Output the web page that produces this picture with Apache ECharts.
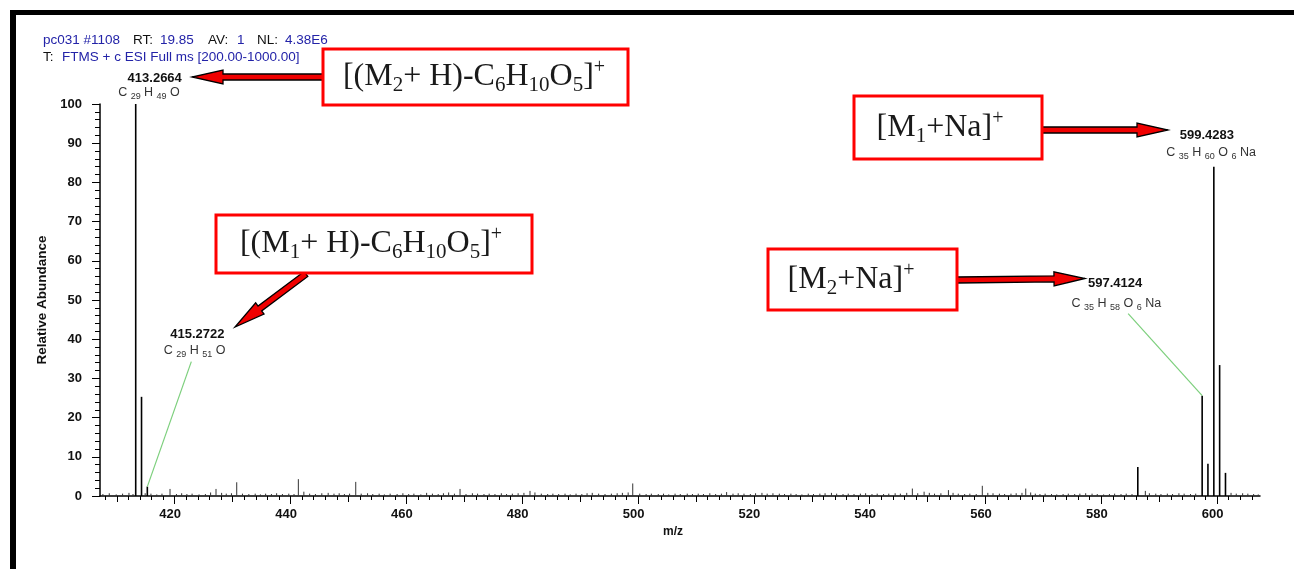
<!DOCTYPE html>
<html><head><meta charset="utf-8">
<script src="https://cdn.jsdelivr.net/npm/echarts@6/dist/echarts.min.js"></script>
<style>html,body{margin:0;padding:0;background:#fff}#c{width:1294px;height:569px}</style>
</head><body><div id="c"></div>
<script>
// ---------------- DATA ----------------
const peakMz  = [413.2664, 414.27, 415.2722, 586.30, 597.4124, 598.41, 599.4283, 600.43, 601.44];
const peakInt = [100, 25.3, 2.4, 7.4, 25.6, 8.2, 84.0, 33.4, 5.9];

const noiseMz = [407.6,408.7,409.9,411.0,412.1,412.8,414.9,415.9,416.9,417.8,419.19,420.3,421.2,422.1,423.0,424.2,425.3,426.2,427.13,428.1,428.9,429.8,430.71,431.7,432.8,433.9,434.8,435.7,436.7,437.6,438.6,439.7,440.6,441.35,442.3,443.3,444.3,445.4,446.5,447.5,448.4,449.3,450.2,451.26,452.2,453.3,454.2,455.3,456.2,457.2,458.4,459.4,460.4,461.3,462.5,463.5,464.5,465.5,466.4,467.3,468.3,469.27,470.3,471.4,472.3,473.4,474.3,475.3,476.4,477.3,478.3,479.3,480.3,481.35,482.2,483.3,484.4,485.3,486.3,487.4,488.3,489.3,490.3,491.2,492.1,493.2,494.3,495.4,496.4,497.3,498.3,499.09,500.3,501.4,502.3,503.5,504.4,505.3,506.4,507.3,508.5,509.4,510.4,511.3,512.4,513.4,514.4,515.3,516.4,517.3,518.3,519.4,520.3,521.4,522.3,523.3,524.4,525.3,526.4,527.3,528.3,529.4,530.3,531.4,532.3,533.4,534.3,535.4,536.3,537.3,538.4,539.3,540.4,541.3,542.4,543.3,544.4,545.3,546.4,547.37,548.3,549.4,550.3,551.2,552.3,553.6,554.4,555.3,556.4,557.3,558.4,559.45,560.4,561.3,562.4,563.3,564.4,565.3,566.3,566.95,567.8,568.6,569.4,570.3,571.4,572.3,573.4,574.3,575.4,576.3,577.3,578.4,579.3,580.4,581.4,582.3,583.4,584.3,585.3,587.6,588.3,589.4,590.3,591.4,592.3,593.4,594.3,595.4,596.3,602.4,603.3,604.4,605.3,606.3,607.1];
const noiseInt = [0.5,0.7,0.4,0.6,0.8,0.5,0.7,0.6,0.4,0.6,1.8,0.5,0.7,0.5,0.6,0.4,0.5,0.9,1.8,0.8,0.6,0.7,3.5,0.6,0.5,0.6,0.4,0.6,0.5,0.7,0.5,0.6,0.5,4.3,1.1,0.6,0.5,0.7,0.8,0.6,0.7,0.5,0.6,3.6,0.6,0.7,0.5,0.6,0.4,0.6,0.5,0.7,0.5,0.6,0.4,0.8,0.6,0.5,0.7,0.9,0.6,1.8,0.5,0.7,0.6,0.5,0.6,0.5,0.7,0.5,0.6,0.7,0.8,1.3,0.9,0.6,0.5,0.6,0.5,0.6,0.4,0.6,0.5,0.7,0.8,0.6,0.5,0.6,0.7,0.8,0.9,3.2,0.6,0.5,0.6,0.5,0.6,0.4,0.6,0.5,0.6,0.5,0.6,0.5,0.7,0.5,0.6,1.0,0.6,0.7,0.6,0.5,0.7,0.8,0.6,0.7,0.6,0.5,0.6,0.5,0.4,0.6,0.5,0.6,0.7,0.8,0.6,0.5,0.6,0.5,0.6,0.7,0.5,0.6,0.5,0.6,0.7,0.6,0.8,1.9,0.7,1.1,0.8,0.6,0.7,1.5,0.8,0.6,0.5,0.6,0.5,2.6,0.8,0.7,0.6,0.5,0.6,0.7,0.8,1.9,0.9,0.6,0.5,0.6,0.5,0.4,0.5,0.6,0.5,0.6,0.7,0.6,0.5,0.4,0.5,0.6,0.5,0.6,0.5,1.3,0.7,0.6,0.5,0.6,0.5,0.7,0.6,0.5,0.6,0.8,0.6,0.7,0.6,0.5,0.4];

const xLabelValues = [420, 440, 460, 480, 500, 520, 540, 560, 580, 600];
const xMidTicks = [410, 430, 450, 470, 490, 510, 530, 550, 570, 590];
const xMinorTicks = [];
for (let v = 408; v <= 606; v += 2) { if (v % 10 !== 0) xMinorTicks.push(v); }

const labeledMz  = [413.2664, 415.2722, 597.4124, 599.4283];
const labeledInt = [100, 2.4, 25.6, 84.0];
const labeledText = ['413.2664', '415.2722', '597.4124', '599.4283'];
const labeledFormula = [
  [['C','29'],['H','49'],['O','']],
  [['C','29'],['H','51'],['O','']],
  [['C','35'],['H','58'],['O','6'],['Na','']],
  [['C','35'],['H','60'],['O','6'],['Na','']]
];
const headerLine1 = [['pc031 #1108','b'],['RT:','k'],['19.85','b'],['AV:','k'],['1','b'],['NL:','k'],['4.38E6','b']];
const headerLine2 = [['T:','k'],['FTMS + c ESI Full ms [200.00-1000.00]','b']];
const annotationTokens = [
  [['n','[(M'],['s','2'],['n','+ H)-C'],['s','6'],['n','H'],['s','10'],['n','O'],['s','5'],['n',']'],['p','+']],
  [['n','[(M'],['s','1'],['n','+ H)-C'],['s','6'],['n','H'],['s','10'],['n','O'],['s','5'],['n',']'],['p','+']],
  [['n','[M'],['s','1'],['n','+Na]'],['p','+']],
  [['n','[M'],['s','2'],['n','+Na]'],['p','+']]
];

// ---------------- LAYOUT (pixels) ----------------
const GRID = {left: 100, top: 104, right: 34, bottom: 73};
const X_MIN = 407.1, X_MAX = 607.4;
const header1X = [43, 133, 160, 208, 237, 257, 285];
const header2X = [43, 62];
// label offsets relative to the peak top pixel: [massDx, massDy, formulaDx, formulaDy, leaderDx, leaderDy]
const labelOffsets = [
  [19, -26, 15, -10, null, null],
  [50, -152, 49, -135, 44, -125],
  [-87, -112, -84, -91, -74, -82],
  [-7, -31, -1, -13, null, null]
];
const boxes = [[323,49,628,105,474],[216,215,532,273,371],[854,96,1042,159,940],[768,249,957,310,851]];
const arrows = [[323,77,192,77],[306,274,235,327],[1042,130,1168,130],[957,280,1085,278.5]];

const chart = echarts.init(document.getElementById('c'), null, {renderer: 'canvas'});
const FONT = 'Liberation Sans, Arial, sans-serif';
const SERIF = 'Liberation Serif, Times New Roman, serif';

function stickRenderer(lw, color) {
  return function (params, api) {
    const p0 = api.coord([api.value(0), 0]);
    const p1 = api.coord([api.value(0), api.value(1)]);
    return {type: 'line', shape: {x1: p0[0], y1: p0[1], x2: p1[0], y2: p1[1]},
      style: {stroke: color, lineWidth: lw}};
  };
}
function subAxis(values, len) {
  return {type: 'value', gridIndex: 0, position: 'bottom', min: X_MIN, max: X_MAX,
    axisLine: {show: false}, splitLine: {show: false}, axisLabel: {show: false},
    axisTick: {show: true, customValues: values, length: len, lineStyle: {color: '#000', width: 1}}};
}

chart.setOption({
  animation: false,
  backgroundColor: '#fff',
  grid: GRID,
  xAxis: [
    {type: 'value', min: X_MIN, max: X_MAX, position: 'bottom',
      name: 'm/z', nameLocation: 'middle', nameGap: 30,
      nameTextStyle: {fontFamily: FONT, fontWeight: 'bold', fontSize: 12, color: '#111', padding: [0, 14, 0, 0]},
      axisLine: {show: true, lineStyle: {color: '#000', width: 1.5}},
      axisTick: {show: true, customValues: xLabelValues, length: 8, lineStyle: {color: '#000', width: 1}},
      axisLabel: {show: true, customValues: xLabelValues, margin: 12, padding: [0, 9, 0, 0],
        fontFamily: FONT, fontWeight: 'bold', fontSize: 13, color: '#111'},
      splitLine: {show: false}},
    subAxis(xMidTicks, 6),
    subAxis(xMinorTicks, 4)
  ],
  yAxis: {type: 'value', min: 0, max: 100, interval: 10,
    name: 'Relative Abundance', nameLocation: 'middle', nameGap: 36, nameRotate: 90,
    nameTextStyle: {fontFamily: FONT, fontWeight: 'bold', fontSize: 13.5, color: '#111'},
    axisLine: {show: true, lineStyle: {color: '#000', width: 1.5}},
    axisTick: {show: true, length: 8, lineStyle: {color: '#000', width: 1}},
    minorTick: {show: true, splitNumber: 5, length: 5, lineStyle: {color: '#000', width: 1}},
    axisLabel: {margin: 18, fontFamily: FONT, fontWeight: 'bold', fontSize: 13, color: '#111'},
    splitLine: {show: false}},
  series: [
    {type: 'custom', xAxisIndex: 0, yAxisIndex: 0, renderItem: stickRenderer(1, '#333'),
      data: noiseMz.map((m, i) => [m, noiseInt[i]]), encode: {x: 0, y: 1}, silent: true},
    {type: 'custom', xAxisIndex: 0, yAxisIndex: 0, renderItem: stickRenderer(1.6, '#000'),
      data: peakMz.map((m, i) => [m, peakInt[i]]), encode: {x: 0, y: 1}, silent: true}
  ]
});

// ---------------- graphics ----------------
const g = [];
g.push({type: 'rect', shape: {x: 10, y: 10, width: 6, height: 559}, style: {fill: '#000'}});
g.push({type: 'rect', shape: {x: 10, y: 10, width: 1284, height: 5}, style: {fill: '#000'}});
const BLUE = '#2323a8';
headerLine1.forEach((s, i) => g.push({type: 'text', x: header1X[i], y: 40,
  style: {text: s[0], fill: s[1] === 'b' ? BLUE : '#111', font: '13.5px ' + FONT, verticalAlign: 'middle'}}));
headerLine2.forEach((s, i) => g.push({type: 'text', x: header2X[i], y: 57,
  style: {text: s[0], fill: s[1] === 'b' ? BLUE : '#111', font: '13.5px ' + FONT, verticalAlign: 'middle'}}));

const formulaRich = {
  n: {fontSize: 12.5, fontFamily: FONT, fill: '#333', lineHeight: 15, verticalAlign: 'top'},
  s: {fontSize: 9, fontFamily: FONT, fill: '#333', lineHeight: 9, verticalAlign: 'bottom'}
};
labeledMz.forEach((mz, i) => {
  const p = chart.convertToPixel({xAxisIndex: 0, yAxisIndex: 0}, [mz, labeledInt[i]]);
  const o = labelOffsets[i];
  g.push({type: 'text', x: p[0] + o[0], y: p[1] + o[1], z: 10,
    style: {text: labeledText[i], font: 'bold 13px ' + FONT, fill: '#111', align: 'center', verticalAlign: 'middle'}});
  const txt = labeledFormula[i].map((e, k) => '{n|' + (k ? ' ' : '') + e[0] + ' }' + (e[1] ? '{s|' + e[1] + '}' : '')).join('');
  g.push({type: 'text', x: p[0] + o[2], y: p[1] + o[3], z: 10,
    style: {text: txt, rich: formulaRich, align: 'center', verticalAlign: 'middle'}});
  if (o[4] !== null) {
    g.push({type: 'line', z: 5, shape: {x1: p[0] + o[4], y1: p[1] + o[5], x2: p[0], y2: p[1]},
      style: {stroke: '#7ccf7c', lineWidth: 1.2}});
  }
});

function arrowPts(x1, y1, x2, y2, sw, hw, hl) {
  const dx = x2 - x1, dy = y2 - y1, L = Math.hypot(dx, dy);
  const ux = dx / L, uy = dy / L, nx = -uy, ny = ux;
  const bx = x2 - ux * hl, by = y2 - uy * hl;
  return [[x1 + nx * sw / 2, y1 + ny * sw / 2], [bx + nx * sw / 2, by + ny * sw / 2], [bx + nx * hw / 2, by + ny * hw / 2],
    [x2, y2], [bx - nx * hw / 2, by - ny * hw / 2], [bx - nx * sw / 2, by - ny * sw / 2], [x1 - nx * sw / 2, y1 - ny * sw / 2]];
}
arrows.forEach(a => g.push({type: 'polygon', z: 20, shape: {points: arrowPts(a[0], a[1], a[2], a[3], 6, 14, 31)},
  style: {fill: '#f00000', stroke: '#000', lineWidth: 1.3}}));

const boxRich = {
  n: {fontSize: 32, fontFamily: SERIF, fill: '#1a1a1a', lineHeight: 38, verticalAlign: 'middle'},
  s: {fontSize: 21, fontFamily: SERIF, fill: '#1a1a1a', lineHeight: 21, verticalAlign: 'bottom'},
  p: {fontSize: 20, fontFamily: SERIF, fill: '#1a1a1a', lineHeight: 20, verticalAlign: 'top'}
};
boxes.forEach((b, i) => {
  g.push({type: 'rect', z: 30, shape: {x: b[0], y: b[1], width: b[2] - b[0], height: b[3] - b[1]},
    style: {fill: '#fff', stroke: '#ff0000', lineWidth: 3}});
  const txt = annotationTokens[i].map(t => '{' + t[0] + '|' + t[1] + '}').join('');
  g.push({type: 'text', z: 31, x: b[4], y: (b[1] + b[3]) / 2,
    style: {text: txt, rich: boxRich, align: 'center', verticalAlign: 'middle'}});
});

chart.setOption({graphic: g});
</script>
</body></html>
